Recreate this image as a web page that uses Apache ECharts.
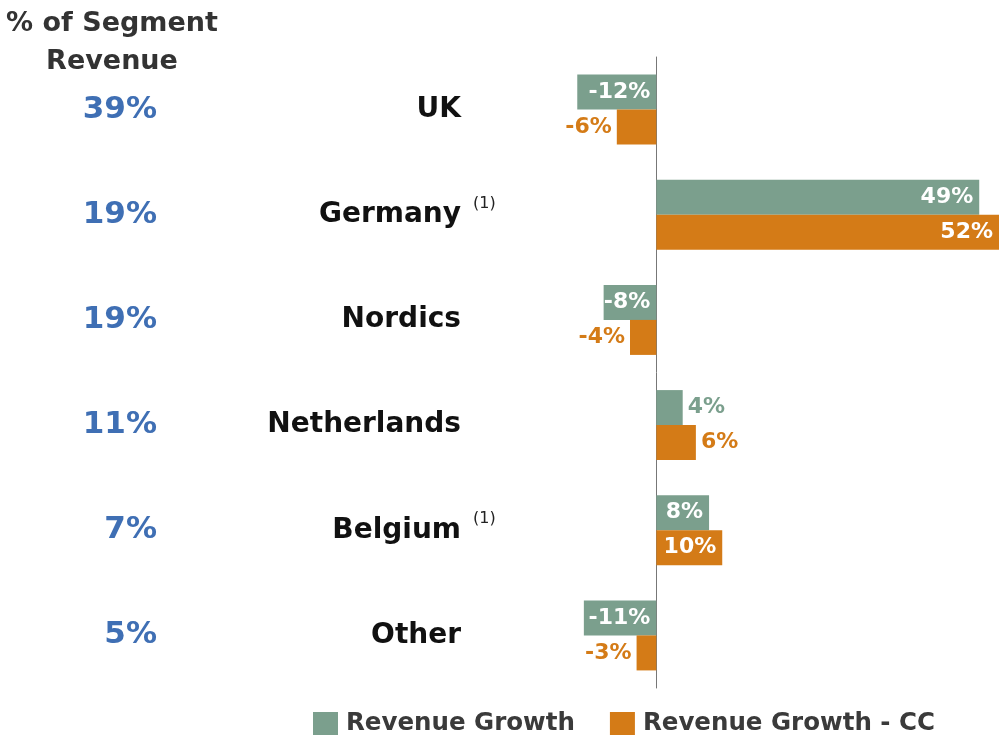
<!DOCTYPE html>
<html>
<head>
<meta charset="utf-8">
<title>Revenue growth by country</title>
<script src="https://cdn.jsdelivr.net/npm/echarts@6/dist/echarts.min.js"></script>
<style>
  html, body { margin: 0; padding: 0; background: #fff; }
  #chart { width: 999px; height: 738px; }
</style>
</head>
<body>
<div id="chart"></div>
<script>
var categories = ['UK', 'Germany', 'Nordics', 'Netherlands', 'Belgium', 'Other'];
var segmentShare = ['39%', '19%', '19%', '11%', '7%', '5%'];
var footnotes = ['', '(1)', '', '', '(1)', ''];
var revenueGrowth = [-12, 49, -8, 4, 8, -11];
var revenueGrowthCC = [-6, 52, -4, 6, 10, -3];

var GREEN = '#7b9f8d';
var ORANGE = '#d47b17';
var FONT = 'DejaVu Sans';

// small bars get the label outside, in the series colour
function makeData(values, color) {
    var out = [];
    for (var i = 0; i < values.length; i++) {
        var v = values[i];
        var inside = Math.abs(v) >= 8;
        out.push({
            value: v,
            label: {
                position: inside ? 'insideRight' : (v < 0 ? 'left' : 'right'),
                distance: inside ? 6 : 5,
                color: inside ? '#fff' : color
            }
        });
    }
    return out;
}

var chart = echarts.init(document.getElementById('chart'));

var barLabel = {
    show: true,
    fontFamily: FONT,
    fontWeight: 'bold',
    fontSize: 22,
    formatter: function (p) { return p.value + '%'; }
};

var option = {
    animation: false,
    title: {
        text: '% of Segment\nRevenue',
        left: 112,
        top: 5,
        padding: 0,
        textAlign: 'center',
        textStyle: {fontFamily: FONT, fontWeight: 'bold', fontSize: 27, color: '#333', lineHeight: 38}
    },
    legend: {
        left: 308,
        top: 706,
        icon: 'rect',
        itemWidth: 25,
        itemHeight: 23,
        itemGap: 35,
        textStyle: {fontFamily: FONT, fontWeight: 'bold', fontSize: 24.5, color: '#3a3a3a', padding: [0, 0, 0, 3]},
        data: ['Revenue Growth', 'Revenue Growth - CC']
    },
    grid: {left: 557.5, right: -2.8, top: 57, bottom: 50, containLabel: false},
    xAxis: {
        type: 'value',
        min: -15,
        max: 52,
        show: false
    },
    yAxis: [
        {
            type: 'category',
            data: categories,
            inverse: true,
            position: 'left',
            axisLine: {show: true, onZero: true, lineStyle: {color: '#777', width: 1}},
            axisTick: {show: false},
            axisLabel: {
                margin: 96.5,
                fontFamily: FONT,
                fontWeight: 'bold',
                fontSize: 28,
                color: '#111'
            }
        },
        {
            type: 'category',
            data: segmentShare,
            inverse: true,
            position: 'left',
            axisLine: {show: false, onZero: false},
            axisTick: {show: false},
            axisLabel: {
                margin: 400.5,
                fontFamily: FONT,
                fontWeight: 'bold',
                fontSize: 31,
                color: '#3f6fb4'
            }
        },
        {
            type: 'category',
            data: footnotes,
            inverse: true,
            position: 'left',
            axisLine: {show: false, onZero: false},
            axisTick: {show: false},
            axisLabel: {
                margin: 84.5,
                align: 'left',
                verticalAlign: 'bottom',
                lineHeight: 16,
                padding: [0, 0, 3, 0],
                fontFamily: FONT,
                fontSize: 16,
                color: '#222'
            }
        }
    ],
    series: [
        {
            name: 'Revenue Growth',
            type: 'bar',
            yAxisIndex: 0,
            barWidth: 35,
            barGap: '0%',
            itemStyle: {color: GREEN},
            label: barLabel,
            data: makeData(revenueGrowth, GREEN)
        },
        {
            name: 'Revenue Growth - CC',
            type: 'bar',
            yAxisIndex: 0,
            barWidth: 35,
            barGap: '0%',
            itemStyle: {color: ORANGE},
            label: barLabel,
            data: makeData(revenueGrowthCC, ORANGE)
        }
    ]
};

chart.setOption(option);
</script>
</body>
</html>
